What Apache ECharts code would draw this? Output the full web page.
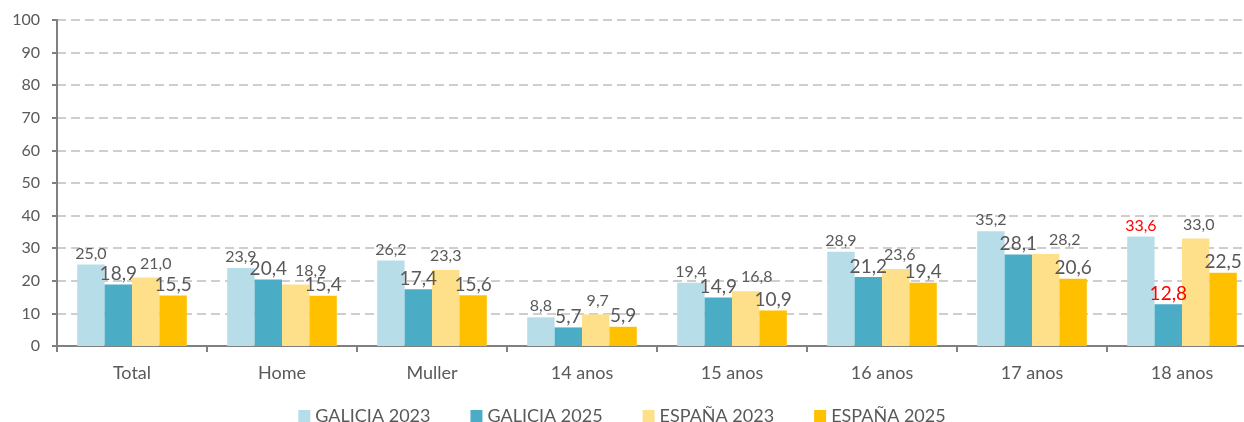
<!DOCTYPE html>
<html>
<head>
	<meta charset="utf-8">
	<title>Galicia / España</title>
	<script type="text/javascript" src="https://cdn.jsdelivr.net/npm/echarts@6/dist/echarts.min.js"></script>
</head>
<body style="margin:0">
	<div id="main" style="width:1244px;height:422px"></div>
	<script type="text/javascript">
var categories = ['Total', 'Home', 'Muller', '14 anos', '15 anos', '16 anos', '17 anos', '18 anos'];
var seriesNames = ['GALICIA 2023', 'GALICIA 2025', 'ESPAÑA 2023', 'ESPAÑA 2025'];
var galicia2023 = [25.0, 23.9, 26.2, 8.8, 19.4, 28.9, 35.2, 33.6];
var galicia2025 = [18.9, 20.4, 17.4, 5.7, 14.9, 21.2, 28.1, 12.8];
var espana2023 = [21.0, 18.9, 23.3, 9.7, 16.8, 23.6, 28.2, 33.0];
var espana2025 = [15.5, 15.4, 15.6, 5.9, 10.9, 19.4, 20.6, 22.5];
var yTicks = [0, 10, 20, 30, 40, 50, 60, 70, 80, 90, 100];

var colors = ['#B7DEE8', '#4BACC6', '#FFE08A', '#FFC000'];
var labelSizes = [16, 19, 16, 19];
var labelDist = [3, 1, 6, 1];
// labels of the light yellow bars were nudged right in the original
var shiftE23 = [10, 15, 0, 2, 11, 4, 19, 3];
// 18 anos labels for Galicia are highlighted in red
var redLabels = { 0: [7], 1: [7] };

var fmt = function (v) { return v.toFixed(1).replace('.', ','); };

var makeSeries = function (idx, values) {
    return {
        name: seriesNames[idx],
        type: 'bar',
        barWidth: 27.4,
        barGap: '0%',
        itemStyle: { color: colors[idx] },
        label: {
            show: true,
            position: 'top',
            distance: labelDist[idx],
            fontFamily: 'Lato',
            fontSize: labelSizes[idx],
            color: '#595959',
            formatter: function (p) { return fmt(p.value); }
        },
        data: values.map(function (v, i) {
            var item = { value: v, label: {} };
            if (redLabels[idx] && redLabels[idx].indexOf(i) >= 0) {
                item.label.color = '#FF0000';
            }
            if (idx === 2) {
                item.label.offset = [shiftE23[i], 0];
            }
            return item;
        })
    };
};

var option = {
    backgroundColor: '#fff',
    animation: false,
    textStyle: { fontFamily: 'Lato' },
    // the axis runs past the right edge of the picture
    grid: { left: 57, width: 1200, top: 20, bottom: 76, outerBoundsMode: 'none' },
    legend: {
        top: 402,
        left: 'center',
        icon: 'rect',
        itemWidth: 12,
        itemHeight: 12,
        itemGap: 40,
        textStyle: { fontSize: 18, color: '#595959', fontFamily: 'Lato' },
        data: seriesNames
    },
    xAxis: {
        type: 'category',
        data: categories,
        axisLine: { lineStyle: { color: '#808080', width: 2 } },
        axisTick: { show: true, length: 6, lineStyle: { color: '#808080', width: 2 } },
        axisLabel: { fontSize: 18, color: '#595959', margin: 18 }
    },
    yAxis: {
        type: 'value',
        min: yTicks[0],
        max: yTicks[yTicks.length - 1],
        interval: 10,
        axisLine: { show: true, lineStyle: { color: '#808080', width: 2 } },
        axisTick: { show: true, length: 5, lineStyle: { color: '#808080', width: 2 } },
        axisLabel: { fontSize: 16, color: '#595959', margin: 17 },
        splitLine: { lineStyle: { color: '#BFBFBF', type: [9, 5], width: 1.5 } }
    },
    series: [
        makeSeries(0, galicia2023),
        makeSeries(1, galicia2025),
        makeSeries(2, espana2023),
        makeSeries(3, espana2025)
    ]
};

var myChart = echarts.init(document.getElementById('main'));
myChart.setOption(option);
	</script>
</body>
</html>
